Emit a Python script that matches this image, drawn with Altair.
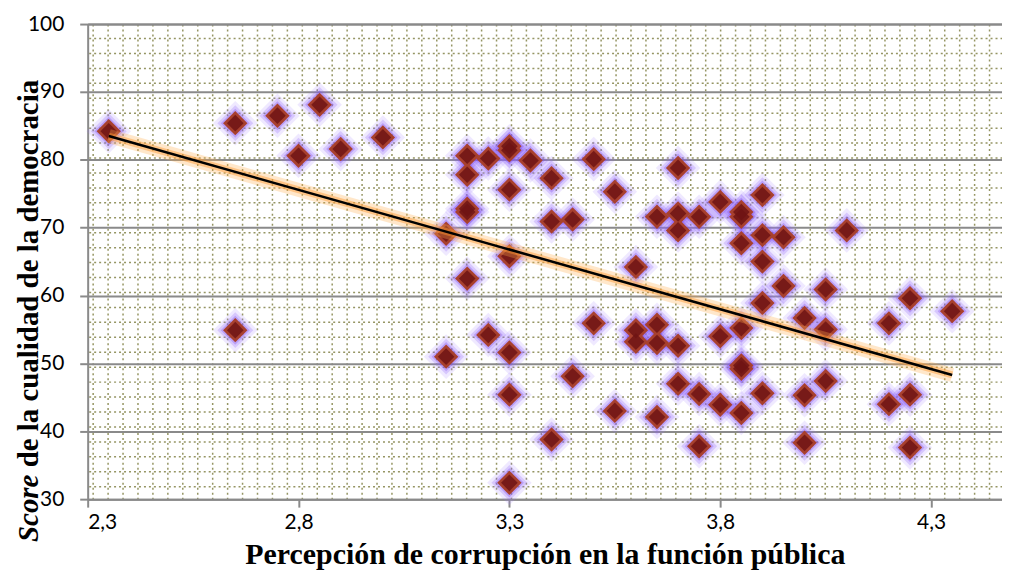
import altair as alt
import pandas as pd
import numpy as np

# ---- data ----
corrupcion = [2.35, 2.65, 2.75, 2.85, 2.80, 2.90, 3.00, 3.20, 3.25, 3.30,
              3.30, 3.20, 3.30, 3.20, 3.20, 3.15, 3.30, 3.35, 3.40, 3.50,
              3.55, 3.40, 3.45, 3.70, 3.65, 3.70, 3.75, 3.80, 3.85, 3.85,
              3.90, 3.70, 3.85, 3.90, 3.95, 4.10, 3.60, 3.90, 3.95, 4.05,
              3.90, 4.25, 4.35, 3.50, 3.60, 3.65, 3.60, 3.65, 3.70, 3.80,
              3.85, 4.00, 4.05, 4.20, 3.85, 3.85, 3.45, 3.70, 3.75, 3.80,
              3.85, 3.90, 4.00, 4.05, 4.20, 4.25, 3.55, 3.65, 3.40, 3.75,
              4.00, 4.25, 3.30, 3.30, 3.30, 3.20, 2.65, 3.25, 3.15]
democracia = [84.2, 85.4, 86.5, 88.1, 80.6, 81.6, 83.3, 80.6, 80.2, 81.4,
              82.0, 77.8, 75.6, 72.8, 72.3, 69.1, 65.8, 79.9, 77.3, 80.1,
              75.3, 70.9, 71.2, 78.8, 71.6, 72.1, 71.6, 73.8, 71.6, 72.3,
              74.8, 69.6, 67.7, 68.9, 68.6, 69.6, 64.2, 65.0, 61.4, 60.9,
              58.9, 59.6, 57.7, 55.9, 54.9, 55.7, 53.2, 53.0, 52.6, 54.0,
              55.2, 56.7, 55.0, 55.9, 49.7, 49.2, 48.1, 47.0, 45.5, 43.9,
              42.7, 45.6, 45.3, 47.4, 44.0, 45.4, 43.0, 42.1, 38.8, 37.8,
              38.3, 37.6, 51.6, 45.4, 32.4, 62.5, 54.9, 54.2, 51.0]
trend_x = [2.35, 4.35]
trend_y = [83.5, 48.3]
x_ticks = [2.3, 2.8, 3.3, 3.8, 4.3]
y_ticks = [30, 40, 50, 60, 70, 80, 90, 100]
x_title = "Percepción de corrupción en la función pública"
y_title_a = "Score"
y_title_b = "de la cualidad de la democracia"

pts = pd.DataFrame({"x": corrupcion, "y": democracia})
trend = pd.DataFrame({"x": trend_x, "y": trend_y})

W, H = 918, 477
XMIN, XMAX = 2.3, 2.3 + W / 423.4
xs = alt.Scale(domain=[XMIN, XMAX], nice=False, zero=False)
ys = alt.Scale(domain=[30, 100], nice=False, zero=False)

GRAY = "#8a8a8a"
OLIVE = "#7a7a3c"

# background dotted pattern (style only)
minor_x = [round(v, 4) for v in np.arange(2.3125, XMAX, 15 / 423.4)]
minor_y = [round(v, 3) for v in np.arange(97.99, 30, -15 / 6.814)]

grid_layer = alt.Chart(pts).mark_point(opacity=0).encode(
    x=alt.X("x:Q", scale=xs, axis=alt.Axis(
        orient="top", values=minor_x, grid=True, gridColor=OLIVE, gridDash=[2, 3],
        gridWidth=1.5, gridOpacity=0.8, labels=False, ticks=False, domain=True,
        domainColor=GRAY, domainWidth=2, title=None)),
    y=alt.Y("y:Q", scale=ys, axis=alt.Axis(
        orient="right", values=minor_y, grid=True, gridColor=OLIVE, gridDash=[2, 3],
        gridWidth=1.5, gridOpacity=0.8, labels=False, ticks=False, domain=False, title=None)),
)

main_axes = alt.Chart(pts).mark_point(opacity=0).encode(
    x=alt.X("x:Q", scale=xs, axis=alt.Axis(
        values=x_ticks, labelExpr="replace(format(datum.value, '.1f'), '.', ',')",
        grid=False, domainColor=GRAY, domainWidth=2, tickColor=GRAY, tickWidth=2,
        tickSize=8, labelFont="Lato", labelFontSize=21, labelColor="black",
        labelPadding=4, labelFlush=True, title=x_title, titleFont="Liberation Serif",
        titleFontSize=30, titleFontWeight="bold", titleColor="black", titlePadding=8)),
    y=alt.Y("y:Q", scale=ys, axis=alt.Axis(
        values=y_ticks, grid=True, gridColor=GRAY, gridWidth=2, domainColor=GRAY,
        domainWidth=2, tickColor=GRAY, tickWidth=2, tickSize=8, labelFont="Lato",
        labelFontSize=21, labelColor="black", labelPadding=16, title=None)),
)

def pt_layer(size, color, opacity):
    return alt.Chart(pts).mark_point(shape="diamond", filled=True, size=size,
                                     color=color, opacity=opacity).encode(
        x=alt.X("x:Q", scale=xs, axis=None),
        y=alt.Y("y:Q", scale=ys, axis=None),
    )

glow1 = pt_layer(2000, "#a07cff", 0.17)
glow2 = pt_layer(1300, "#8a5cf5", 0.24)
glow3 = pt_layer(850, "#7b48f0", 0.32)
outer = pt_layer(600, "#a8402e", 1.0)
inner = pt_layer(280, "#6e1414", 0.85)

def line_layer(color, width, opacity):
    return alt.Chart(trend).mark_line(color=color, strokeWidth=width, opacity=opacity).encode(
        x=alt.X("x:Q", scale=xs, axis=None),
        y=alt.Y("y:Q", scale=ys, axis=None),
    )

lglow1 = line_layer("#ffae50", 14, 0.3)
lglow2 = line_layer("#ff9a30", 7, 0.45)
lmain = line_layer("black", 2.5, 1.0)

t1 = alt.Chart(pd.DataFrame({"t": [y_title_a]})).mark_text(
    angle=270, align="left", baseline="alphabetic", font="Liberation Serif",
    fontSize=29, fontWeight="bold", fontStyle="italic", color="black").encode(
    text="t:N", x=alt.value(-50), y=alt.value(520))
t2 = alt.Chart(pd.DataFrame({"t": [y_title_b]})).mark_text(
    angle=270, align="left", baseline="alphabetic", font="Liberation Serif",
    fontSize=29, fontWeight="bold", color="black").encode(
    text="t:N", x=alt.value(-50), y=alt.value(445))

chart = alt.layer(
    grid_layer, main_axes, glow1, glow2, glow3, outer, inner,
    lglow1, lglow2, lmain, t1, t2
).resolve_axis(x="independent", y="independent").properties(
    width=W, height=H,
    autosize=alt.AutoSizeParams(type="none"),
    padding={"left": 80, "top": 15, "right": 0, "bottom": 70},
).configure_view(stroke=None).configure(background="white")

chart.save("out.html", embed_options={"renderer": "svg", "actions": False})
